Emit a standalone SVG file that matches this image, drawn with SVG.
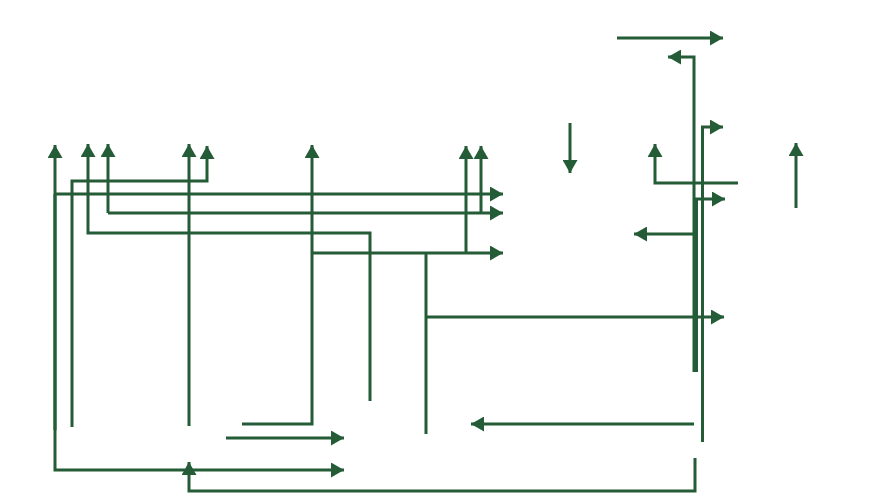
<svg xmlns="http://www.w3.org/2000/svg" width="892" height="502" viewBox="0 0 892 502">
<style>
.c{fill:none;stroke:#245c37;stroke-width:3;stroke-linejoin:miter}
</style>
<defs>
<marker id="ah" markerUnits="userSpaceOnUse" markerWidth="14" markerHeight="15" refX="13" refY="7.5" orient="auto">
<path d="M0,0 L13,7.5 L0,15 Z" fill="#245c37"/>
</marker>
</defs>
<rect width="892" height="502" fill="#ffffff"/>
<g id="connectors">
<path class="c" d="M55,430 V145" marker-end="url(#ah)"/>
<path class="c" d="M55,194 H503" marker-end="url(#ah)"/>
<path class="c" d="M55,194 V470 H344" marker-end="url(#ah)"/>
<path class="c" d="M72,427 V181 H207 V146" marker-end="url(#ah)"/>
<path class="c" d="M108,213 V144" marker-end="url(#ah)"/>
<path class="c" d="M108,213 H503" marker-end="url(#ah)"/>
<path class="c" d="M481,213 V146" marker-end="url(#ah)"/>
<path class="c" d="M370,401 V233 H88 V144" marker-end="url(#ah)"/>
<path class="c" d="M189,426 V144" marker-end="url(#ah)"/>
<path class="c" d="M242,424 H312 V145" marker-end="url(#ah)"/>
<path class="c" d="M312,253 H503" marker-end="url(#ah)"/>
<path class="c" d="M466,253 V146" marker-end="url(#ah)"/>
<path class="c" d="M426,434 V253"/>
<path class="c" d="M426,317 H724" marker-end="url(#ah)"/>
<path class="c" d="M226,438 H344" marker-end="url(#ah)"/>
<path class="c" d="M695,458 V491 H189 V462" marker-end="url(#ah)"/>
<path class="c" d="M694,424 H471" marker-end="url(#ah)"/>
<path class="c" d="M617,38 H723" marker-end="url(#ah)"/>
<path class="c" d="M694,372 V57 H668" marker-end="url(#ah)"/>
<path class="c" d="M702.5,442 V127 H723" marker-end="url(#ah)"/>
<path class="c" d="M738,183 H655 V144" marker-end="url(#ah)"/>
<path class="c" d="M796,208 V143" marker-end="url(#ah)"/>
<path class="c" d="M696.5,372 V199 H725" marker-end="url(#ah)"/>
<path class="c" d="M694,234 H634" marker-end="url(#ah)"/>
<path class="c" d="M570,123 V173" marker-end="url(#ah)"/>
</g>
</svg>
